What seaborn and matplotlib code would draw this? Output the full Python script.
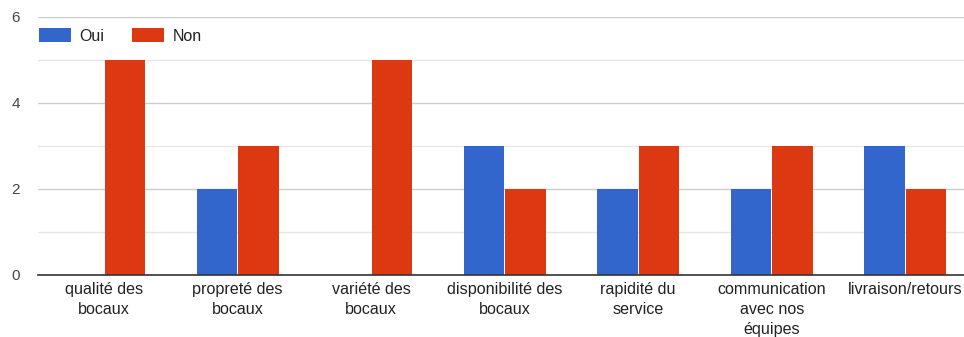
import matplotlib
matplotlib.use("Agg")
import matplotlib.pyplot as plt
import seaborn as sns
import pandas as pd
from matplotlib.ticker import MultipleLocator

categories = [
    "qualité des\nbocaux",
    "propreté des\nbocaux",
    "variété des\nbocaux",
    "disponibilité des\nbocaux",
    "rapidité du\nservice",
    "communication\navec nos\néquipes",
    "livraison/retours",
]
oui = [0, 2, 0, 3, 2, 2, 3]
non = [5, 3, 5, 2, 3, 3, 2]
series_names = ["Oui", "Non"]
colors = ["#3366cc", "#dc3912"]

df = pd.DataFrame({
    "cat": categories * 2,
    "serie": [series_names[0]] * len(oui) + [series_names[1]] * len(non),
    "val": oui + non,
})

sns.set_theme(style="white")
plt.rcParams["font.family"] = ["Liberation Sans", "DejaVu Sans"]

W, H = 964, 337
fig = plt.figure(figsize=(W / 100, H / 100), dpi=100)
left, right = 37.5, 972
top, bottom = 17, 275
ax = fig.add_axes([left / W, (H - bottom) / H, (right - left) / W, (bottom - top) / H])

sns.barplot(data=df, x="cat", y="val", hue="serie", palette=colors,
            width=0.62, gap=0.02, ax=ax, saturation=1, linewidth=0,
            legend=True)

ax.set_ylim(0, 6)
ax.set_xlim(-0.5, len(categories) - 0.5)
ax.yaxis.set_major_locator(MultipleLocator(2))
ax.yaxis.set_minor_locator(MultipleLocator(1))
ax.grid(axis="y", which="major", color="#cccccc", linewidth=1)
ax.grid(axis="y", which="minor", color="#e6e6e6", linewidth=1)
ax.set_axisbelow(True)
for s in ["top", "right", "left"]:
    ax.spines[s].set_visible(False)
ax.spines["bottom"].set_color("#333333")
ax.spines["bottom"].set_linewidth(1.2)
ax.set_xlabel("")
ax.set_ylabel("")
ax.tick_params(axis="both", which="both", length=0, colors="#444444")
ax.tick_params(axis="y", labelsize=11, pad=12.5)
ax.tick_params(axis="x", labelsize=11.6, pad=5)
for lbl in ax.get_xticklabels():
    lbl.set_linespacing(1.4)
    lbl.set_color("#222222")

ax.legend(loc="upper left", bbox_to_anchor=(-0.002, 0.97), ncol=2, frameon=False,
          fontsize=11.5, handlelength=2.0, handleheight=1.0, columnspacing=1.8,
          handletextpad=0.5, borderaxespad=0.0, borderpad=0.2,
          labelcolor="#222222")

fig.savefig("out.png", dpi=100)
